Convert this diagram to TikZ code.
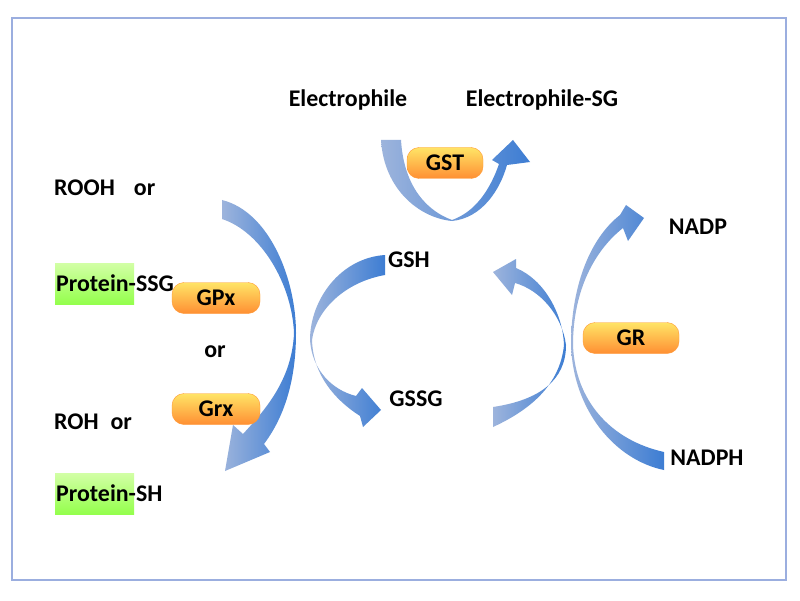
\documentclass[tikz,border=0pt]{standalone}
\usepackage{fontspec}
\setmainfont{Carlito}
\definecolor{al}{HTML}{9DB4DC}
\definecolor{ad}{HTML}{3D7DD3}
\begin{document}
\begin{tikzpicture}[x=1bp,y=-1bp,
  lbl/.style={font=\fontsize{24}{28}\selectfont\bfseries, inner sep=1pt},
  pill/.style={rounded corners=12bp, minimum width=88bp, minimum height=31bp, inner sep=0pt, top color=orange!35!yellow!60, bottom color=orange!90!red!80, draw=orange!80, font=\fontsize{24}{26}\selectfont\bfseries},
  grn/.style={top color=green!50!yellow!35, bottom color=green!60!yellow!70, draw=none},
  arr/.style={left color=al, right color=ad, draw=none}]
\useasboundingbox (0,0) rectangle (800,601);
\fill[white] (0,0) rectangle (800,601);
\draw[line width=1.5bp, cyan!40!blue!40] (12,18) rectangle (786,580);
% green highlights
\fill[grn] (55,263) rectangle (134,304);
\fill[grn] (55,473) rectangle (134,514);
% texts
\node[lbl] (eph) at (348,100) {Electrophile};
\node[lbl] (ephsg) at (542,100) {Electrophile-SG};
\node[lbl,anchor=west] (rooh) at (53,188) {ROOH\hspace{0.8em}or};
\node[lbl,anchor=west] (pssg) at (55,283) {Protein-SSG};
\node[lbl] (or) at (215,352) {or};
\node[lbl,anchor=west] (roh) at (53,422) {ROH\hspace{0.5em}or};
\node[lbl,anchor=west] (psh) at (55,493) {Protein-SH};
\node[lbl] (gsh) at (409,260) {GSH};
\node[lbl] (gssg) at (416,399) {GSSG};
\node[lbl] (nadp) at (698,227) {NADP};
\node[lbl] (nadph) at (707,458) {NADPH};
% arrows
\shade[arr] (222,200) .. controls (270,212) and (296,280) .. (296,333)
  .. controls (296,385) and (282,420) .. (264,444) -- (270,452) -- (225,471) -- (233,425) -- (243,434)
  .. controls (265,410) and (292,380) .. (294,333)
  .. controls (292,285) and (262,232) .. (222,219) -- cycle;
\shade[arr] (385,255) .. controls (340,258) and (310,300) .. (310,340)
  .. controls (312,370) and (332,390) .. (356,396) -- (362,388) -- (381,410) -- (363,427) -- (360,416)
  .. controls (335,400) and (313,375) .. (312,340)
  .. controls (316,310) and (345,282) .. (385,275) -- cycle;
\shade[arr] (381,140) .. controls (384,190) and (420,218) .. (452,221)
  .. controls (482,218) and (500,190) .. (507,165) -- (530,162) -- (513,140) -- (492,160) -- (499,164)
  .. controls (490,190) and (475,212) .. (452,220)
  .. controls (430,212) and (404,190) .. (401,140) -- cycle;
\shade[arr] (493,407) .. controls (540,400) and (566,380) .. (566,345)
  .. controls (562,315) and (540,290) .. (515,283) -- (512,295) -- (493,272) -- (516,259) -- (516,268)
  .. controls (545,280) and (563,315) .. (564,345)
  .. controls (560,385) and (530,410) .. (493,427) -- cycle;
\shade[arr] (664,452) .. controls (610,440) and (575,400) .. (573,345)
  .. controls (573,290) and (595,250) .. (623,228) -- (628,241) -- (644,218) -- (626,205) -- (620,215)
  .. controls (588,240) and (571,290) .. (571,345)
  .. controls (573,410) and (615,460) .. (664,470) -- cycle;
% enzymes
\node[pill, minimum width=76bp] (gst) at (445,163) {GST};
\node[pill] (gpx) at (216,298) {GPx};
\node[pill] (grx) at (216,409) {Grx};
\node[pill, minimum width=96bp] (gr) at (631,338) {GR};
\end{tikzpicture}
\end{document}
